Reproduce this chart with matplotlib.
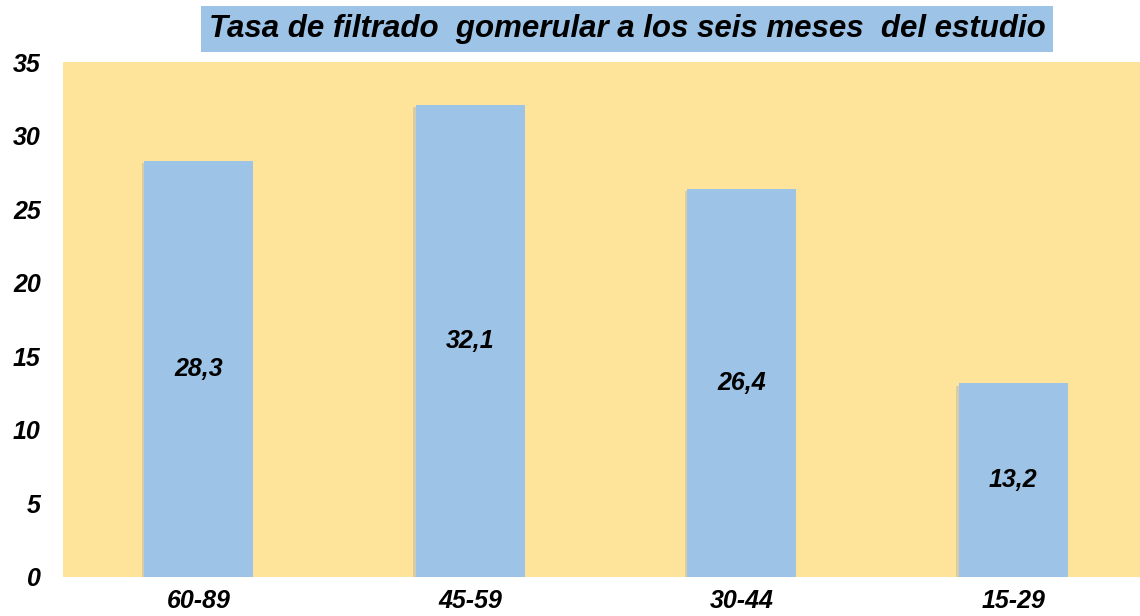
import matplotlib.pyplot as plt
import matplotlib.patheffects as pe

plt.rcParams['font.family'] = ['Liberation Sans', 'DejaVu Sans']

categories = ["60-89", "45-59", "30-44", "15-29"]
values = [28.3, 32.1, 26.4, 13.2]
value_labels = ["28,3", "32,1", "26,4", "13,2"]

fig = plt.figure(figsize=(11.4, 6.16), dpi=100)
# plot area runs a bit past the right edge, like the source image
ax = fig.add_axes([63 / 1140, 1 - 577 / 616, 1086 / 1140, 515 / 616])
ax.set_facecolor("#FDE49A")

bars = ax.bar(range(len(categories)), values, width=0.4, color="#9DC3E6",
              zorder=2)
for b in bars:
    b.set_path_effects([pe.SimplePatchShadow(offset=(-2, -2), shadow_rgbFace="#B5B5B5", alpha=0.5),
                        pe.Normal()])

for i, (v, lab) in enumerate(zip(values, value_labels)):
    ax.text(i, v / 2, lab, ha="center", va="center", fontsize=18,
            fontweight="bold", fontstyle="italic", zorder=3)

ax.set_xlim(-0.5, len(categories) - 0.5)
ax.set_ylim(0, 35)
ax.set_yticks(range(0, 36, 5))
ax.set_xticks(range(len(categories)))
ax.set_xticklabels(categories)
for s in ax.spines.values():
    s.set_visible(False)
ax.tick_params(length=0, labelsize=18)
ax.tick_params(axis="y", pad=16)
ax.tick_params(axis="x", pad=9)
for t in ax.get_xticklabels() + ax.get_yticklabels():
    t.set_fontweight("bold")
    t.set_fontstyle("italic")

fig.text(627 / 1140, 1 - 29 / 616, "Tasa de filtrado  gomerular a los seis meses  del estudio",
         ha="center", va="center", fontsize=22.5, fontweight="bold", fontstyle="italic",
         bbox=dict(boxstyle="square,pad=0.25", facecolor="#9DC3E6", edgecolor="none"))

fig.savefig("out.png", dpi=100)
